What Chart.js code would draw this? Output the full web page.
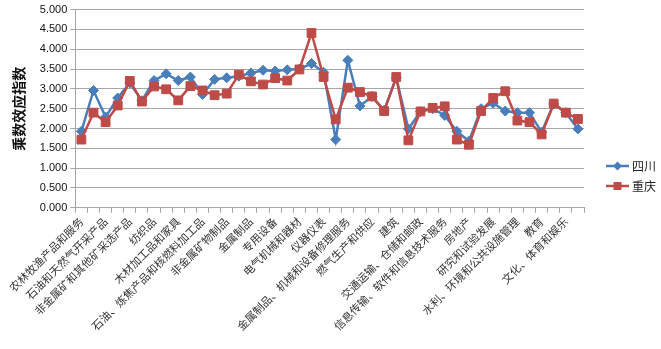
<!DOCTYPE html>
<html>
<head>
<meta charset="utf-8">
<script src="https://cdn.jsdelivr.net/npm/chart.js@4"></script>
<style>
html,body{margin:0;padding:0;background:#fff;}
#wrap{width:661px;height:349px;}
</style>
</head>
<body>
<div id="wrap"><canvas id="c" width="661" height="349"></canvas></div>
<script>
const categories = [
  "农林牧渔产品和服务","煤炭采选产品","石油和天然气开采产品","金属矿采选产品","非金属矿和其他矿采选产品",
  "食品和烟草","纺织品","纺织服装鞋帽皮革羽绒及其制品","木材加工品和家具","造纸印刷和文教体育用品",
  "石油、炼焦产品和核燃料加工品","化学产品","非金属矿物制品","金属冶炼和压延加工品","金属制品",
  "通用设备","专用设备","交通运输设备","电气机械和器材","通信设备、计算机和其他电子设备",
  "仪器仪表","其他制造产品","金属制品、机械和设备修理服务","电力、热力的生产和供应","燃气生产和供应",
  "水的生产和供应","建筑","批发和零售","交通运输、仓储和邮政","住宿和餐饮",
  "信息传输、软件和信息技术服务","金融","房地产","租赁和商务服务","研究和试验发展",
  "综合技术服务","水利、环境和公共设施管理","居民服务、修理和其他服务","教育","卫生和社会工作",
  "文化、体育和娱乐","公共管理、社会保障和社会组织"
];
const sichuan = [
  1.93,2.96,2.29,2.77,3.15,2.70,3.21,3.38,3.21,3.30,
  2.86,3.24,3.28,3.32,3.40,3.47,3.45,3.48,3.50,3.64,
  3.42,1.72,3.72,2.57,2.81,2.46,3.28,1.99,2.43,2.50,
  2.33,1.93,1.68,2.50,2.64,2.44,2.40,2.40,1.91,2.62,
  2.40,1.99
];
const chongqing = [
  1.72,2.40,2.16,2.58,3.20,2.68,3.06,2.99,2.71,3.07,
  2.96,2.84,2.88,3.36,3.19,3.11,3.27,3.21,3.49,4.41,
  3.30,2.23,3.03,2.92,2.81,2.44,3.30,1.70,2.43,2.52,
  2.56,1.72,1.59,2.44,2.77,2.94,2.20,2.16,1.85,2.63,
  2.40,2.24
];
const seriesNames = ["四川","重庆"];
const yTicks = {min:0, max:5, step:0.5};

const BLUE = "#4A7EBB";
const RED = "#BE4B48";
const GRID = "#A6A6A6";

const legendPlugin = {
  id: 'customLegend',
  afterDraw(chart) {
    const ctx = chart.ctx;
    const ds = chart.data.datasets;
    const x0 = 606, lineW = 23;
    const yStart = 166, gap = 20;
    ds.forEach((d, i) => {
      const y = yStart + i * gap;
      ctx.save();
      ctx.strokeStyle = d.borderColor;
      ctx.lineWidth = 2.5;
      ctx.beginPath();
      ctx.moveTo(x0, y);
      ctx.lineTo(x0 + lineW, y);
      ctx.stroke();
      ctx.fillStyle = d.borderColor;
      ctx.beginPath();
      if (d.pointStyle === 'rect') {
        ctx.rect(x0 + lineW/2 - 4, y - 4, 8, 8);
      } else {
        const r = 4.5, cx = x0 + lineW/2;
        ctx.moveTo(cx, y - r); ctx.lineTo(cx + r, y); ctx.lineTo(cx, y + r); ctx.lineTo(cx - r, y); ctx.closePath();
      }
      ctx.fill();
      ctx.fillStyle = '#222';
      ctx.font = '12px "Noto Sans CJK SC"';
      ctx.textBaseline = 'middle';
      ctx.textAlign = 'left';
      ctx.fillText(d.label, x0 + lineW + 3, y);
      ctx.restore();
    });
  }
};

new Chart(document.getElementById('c'), {
  type: 'line',
  data: {
    labels: categories,
    datasets: [
      {
        label: seriesNames[0], data: sichuan,
        borderColor: BLUE, backgroundColor: BLUE,
        borderWidth: 2.5, pointStyle: 'rectRot', pointRadius: 5,
        pointBorderWidth: 1, pointBorderColor: BLUE, tension: 0, order: 1
      },
      {
        label: seriesNames[1], data: chongqing,
        borderColor: RED, backgroundColor: RED,
        borderWidth: 2.5, pointStyle: 'rect', pointRadius: 6.2,
        pointBorderWidth: 1, pointBorderColor: RED, tension: 0, order: 0
      }
    ]
  },
  options: {
    responsive: false,
    animation: false,
    devicePixelRatio: 1,
    layout: {padding: {left: 10, right: 77, top: 3, bottom: 14}},
    plugins: {
      legend: {display: false},
      tooltip: {enabled: false}
    },
    scales: {
      x: {
        offset: true,
        grid: {display: true, drawOnChartArea: false, drawTicks: true, tickLength: 5, offset: true, color: GRID},
        border: {display: true, color: GRID, width: 1},
        ticks: {
          autoSkip: false, maxRotation: 45, minRotation: 45, padding: 2,
          color: '#333',
          font: {family: '"Noto Sans CJK SC"', size: 11},
          callback: function(val, idx) { return idx % 2 === 0 ? categories[idx] : ''; }
        }
      },
      y: {
        min: yTicks.min, max: yTicks.max,
        grid: {color: GRID, lineWidth: 1, drawTicks: true, tickLength: 5},
        border: {display: true, color: GRID, width: 1},
        ticks: {
          stepSize: yTicks.step, padding: 3, color: '#111',
          font: {family: '"Liberation Sans"', size: 11},
          callback: v => Number(v).toFixed(3)
        },
        title: {
          display: true, text: '乘数效应指数', color: '#111',
          font: {family: '"Noto Sans CJK SC"', size: 14, weight: 'bold'},
          padding: {top: 0, bottom: 10}
        }
      }
    }
  },
  plugins: [legendPlugin]
});
</script>
</body>
</html>
